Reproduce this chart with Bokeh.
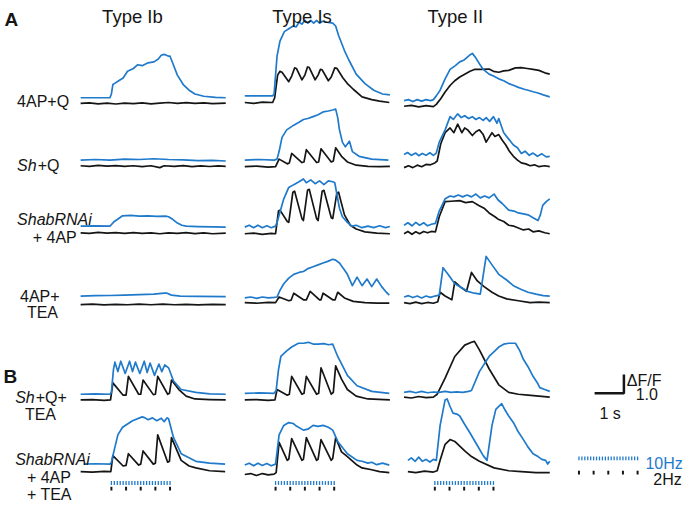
from bokeh.plotting import figure
from bokeh.models import Range1d
from bokeh.embed import file_html
from bokeh.resources import INLINE
from bokeh.core.properties import value

# ---------------- data (time in s, fluorescence in dF/F units) ----------------
column_titles = ["Type Ib", "Type Is", "Type II"]
stim_onset = 1.05          # s
stim_duration = 2.0        # s
rate_fast_hz = 10
rate_slow_hz = 2
scale_time = 1.0           # s
scale_dff = 1.0            # dF/F

# Row 1: 4AP+Q
r1_ib_blue = [(0,0.3),(1.0,0.3),(1.05,0.5),(1.1,1.0),(1.15,1.05),(1.3,1.2),(1.45,1.35),(1.6,1.7),(1.8,1.85),(1.95,2.05),(2.1,2.0),(2.3,2.15),(2.5,2.2),(2.65,2.35),(2.75,2.55),(2.85,2.6),(3.0,2.5),(3.05,2.5),(3.15,2.1),(3.3,1.5),(3.5,1.0),(3.7,0.7),(3.9,0.5),(4.2,0.38),(4.6,0.32),(4.95,0.3)]
r1_ib_black = [(0,0),(0.3,0.03),(0.6,-0.02),(0.9,0.02),(1.2,-0.03),(1.5,0.02),(1.8,-0.01),(2.1,0.03),(2.4,-0.02),(2.7,0.02),(3.0,0.05),(3.3,0.0),(3.6,0.04),(3.9,0.0),(4.2,0.03),(4.5,-0.01),(4.95,0.02)]
r1_is_blue = [(0,0.4),(0.95,0.4),(1.0,0.5),(1.1,2.5),(1.2,3.3),(1.35,3.8),(1.5,3.95),(1.65,4.1),(1.75,4.05),(1.85,4.3),(1.95,4.2),(2.05,4.4),(2.15,4.25),(2.25,4.4),(2.35,4.25),(2.45,4.4),(2.55,4.25),(2.65,4.35),(2.8,4.3),(3.0,4.25),(3.1,4.1),(3.2,3.6),(3.4,2.8),(3.55,2.3),(3.8,1.55),(4.1,1.05),(4.4,0.7),(4.7,0.5),(4.95,0.45)]
r1_is_black = [(0,0.05),(0.3,0.0),(0.6,0.07),(0.95,0.05),(1.02,0.3),(1.12,1.5),(1.2,1.7),(1.27,1.65),(1.5,1.15),(1.6,1.45),(1.7,1.88),(1.76,1.85),(1.95,1.25),(2.05,1.5),(2.14,1.93),(2.2,1.9),(2.4,1.25),(2.5,1.5),(2.58,1.8),(2.64,1.78),(2.85,1.2),(2.95,1.4),(3.07,1.88),(3.14,1.86),(3.35,1.35),(3.5,1.05),(3.7,0.75),(4.0,0.35),(4.33,0.2),(4.6,0.12),(4.93,0.05)]
r1_ii_blue = [(0,0.15),(0.15,0.2),(0.3,0.1),(0.45,0.2),(0.6,0.12),(0.75,0.2),(0.9,0.15),(1.0,0.2),(1.1,0.4),(1.23,0.7),(1.4,1.3),(1.57,1.8),(1.75,2.0),(1.9,2.2),(2.05,2.3),(2.23,2.55),(2.33,2.65),(2.45,2.4),(2.57,2.1),(2.7,1.8),(2.9,1.55),(3.05,1.45),(3.23,1.3),(3.4,1.2),(3.57,1.05),(3.75,0.95),(3.9,0.85),(4.1,0.75),(4.23,0.7),(4.4,0.62),(4.57,0.55),(4.75,0.45),(4.97,0.35)]
r1_ii_black = [(0,-0.15),(0.25,-0.1),(0.5,-0.18),(0.75,-0.12),(1.0,-0.17),(1.1,-0.05),(1.25,0.25),(1.4,0.6),(1.57,0.95),(1.73,1.2),(1.9,1.4),(2.07,1.55),(2.25,1.7),(2.4,1.8),(2.6,1.8),(2.9,1.82),(3.05,1.7),(3.23,1.65),(3.4,1.72),(3.57,1.75),(3.8,1.88),(4.0,1.9),(4.2,1.85),(4.4,1.8),(4.6,1.75),(4.8,1.62),(4.97,1.55)]

# Row 2: Sh+Q
r2_ib_blue = [(0,0.35),(0.5,0.38),(1.0,0.35),(1.5,0.4),(2.0,0.38),(2.5,0.42),(3.0,0.38),(3.5,0.36),(4.0,0.32),(4.5,0.33),(4.95,0.3)]
r2_ib_black = [(0,0.05),(0.3,0.02),(0.6,0.07),(0.9,0.03),(1.2,0.06),(1.5,0.02),(1.8,0.05),(2.1,0.0),(2.4,0.05),(2.7,-0.05),(2.85,0.05),(3.2,0.02),(3.5,0.06),(3.8,0.0),(4.1,0.04),(4.4,0.01),(4.7,0.04),(4.95,0.02)]
r2_is_blue = [(0,0.35),(0.5,0.38),(1.0,0.35),(1.1,0.4),(1.17,0.8),(1.27,1.55),(1.43,1.95),(1.67,2.2),(1.85,2.35),(2.0,2.5),(2.15,2.55),(2.33,2.65),(2.5,2.75),(2.67,2.9),(2.85,2.95),(3.0,3.0),(3.1,3.05),(3.17,2.6),(3.23,1.95),(3.33,1.3),(3.43,1.05),(3.57,1.35),(3.67,0.8),(3.9,0.55),(4.33,0.4),(4.9,0.35)]
r2_is_black = [(0,0.0),(0.4,0.03),(0.8,-0.02),(1.05,0.0),(1.17,0.4),(1.45,0.15),(1.52,0.2),(1.6,0.7),(1.95,0.22),(2.02,0.25),(2.1,0.9),(2.45,0.22),(2.52,0.25),(2.6,0.95),(2.95,0.25),(3.02,0.3),(3.1,1.0),(3.3,0.55),(3.5,0.25),(3.8,0.08),(4.2,0.02),(4.6,0.0),(4.95,0.02)]
r2_ii_blue = [(0,0.65),(0.12,0.75),(0.25,0.6),(0.4,0.72),(0.5,0.58),(0.62,0.7),(0.75,0.6),(0.88,0.74),(1.0,0.6),(1.1,0.72),(1.2,1.3),(1.4,1.95),(1.57,2.65),(1.68,2.5),(1.83,2.8),(1.95,2.6),(2.07,2.7),(2.2,2.55),(2.33,2.65),(2.45,2.5),(2.57,2.6),(2.7,2.45),(2.8,2.6),(2.92,2.4),(3.05,2.65),(3.17,2.3),(3.23,2.55),(3.4,1.8),(3.55,1.5),(3.73,1.15),(3.87,1.0),(4.0,0.7),(4.13,0.82),(4.27,0.6),(4.4,0.72),(4.55,0.55),(4.7,0.68),(4.85,0.52),(4.97,0.55)]
r2_ii_black = [(0,-0.05),(0.15,0.05),(0.3,-0.05),(0.45,0.08),(0.6,0.0),(0.75,0.12),(0.9,0.1),(1.05,0.2),(1.13,0.3),(1.25,1.2),(1.4,1.8),(1.57,2.05),(1.7,1.8),(1.83,2.25),(1.97,1.8),(2.07,2.05),(2.17,1.95),(2.33,1.65),(2.45,1.85),(2.57,1.95),(2.7,1.7),(2.8,1.3),(2.9,1.55),(3.0,1.8),(3.1,1.6),(3.23,1.7),(3.35,1.4),(3.47,1.15),(3.6,0.8),(3.73,0.55),(3.87,0.35),(4.0,0.2),(4.15,0.15),(4.3,0.05),(4.45,0.1),(4.6,0.0),(4.8,0.05),(4.97,0.0)]

# Row 3: ShabRNAi + 4AP
r3_ib_blue = [(0,0.4),(0.5,0.42),(1.0,0.4),(1.03,0.45),(1.15,0.65),(1.25,0.75),(1.43,0.95),(1.7,0.97),(2.0,0.93),(2.3,0.95),(2.6,0.92),(2.9,0.93),(3.0,0.9),(3.15,0.75),(3.27,0.6),(3.45,0.45),(3.6,0.4),(4.0,0.38),(4.5,0.36),(4.95,0.35)]
r3_ib_black = [(0,0.05),(0.3,0.02),(0.6,0.07),(0.9,0.03),(1.2,0.06),(1.5,0.02),(1.8,0.06),(2.1,0.02),(2.4,0.05),(2.7,0.0),(3.0,0.05),(3.3,0.02),(3.6,0.06),(3.9,0.01),(4.2,0.04),(4.5,0.0),(4.95,0.03)]
r3_is_blue = [(0,0.35),(0.15,0.45),(0.3,0.32),(0.45,0.45),(0.6,0.32),(0.75,0.42),(0.9,0.32),(1.05,0.4),(1.1,0.6),(1.33,1.85),(1.5,2.45),(1.67,2.6),(1.85,2.75),(2.0,2.9),(2.1,2.7),(2.25,2.85),(2.4,2.65),(2.55,2.8),(2.7,2.6),(2.85,2.8),(3.0,2.75),(3.07,2.7),(3.23,1.35),(3.33,0.9),(3.5,0.6),(3.65,0.4),(3.8,0.45),(4.0,0.32),(4.2,0.4),(4.4,0.32),(4.6,0.42),(4.8,0.32),(4.95,0.38)]
r3_is_black = [(0,0.0),(0.3,0.03),(0.6,-0.03),(0.9,0.02),(1.05,0.0),(1.15,1.2),(1.2,1.25),(1.45,0.65),(1.5,0.6),(1.64,2.2),(1.7,2.25),(1.95,0.8),(2.0,0.7),(2.14,2.3),(2.2,2.35),(2.45,0.8),(2.5,0.7),(2.64,2.25),(2.7,2.3),(2.95,0.85),(3.0,0.8),(3.14,2.15),(3.2,2.2),(3.4,1.0),(3.6,0.45),(3.8,0.25),(4.1,0.1),(4.5,0.03),(4.95,0.0)]
r3_ii_blue = [(0,0.45),(0.13,0.58),(0.27,0.42),(0.4,0.6),(0.53,0.45),(0.67,0.58),(0.8,0.42),(0.93,0.5),(1.07,0.55),(1.2,1.2),(1.4,1.85),(1.57,2.0),(1.7,1.95),(1.85,2.05),(2.0,1.95),(2.15,2.05),(2.3,1.95),(2.45,2.1),(2.6,1.9),(2.75,2.0),(2.9,1.9),(3.07,2.1),(3.2,1.8),(3.35,1.6),(3.57,1.25),(3.75,1.2),(3.9,1.1),(4.07,1.05),(4.23,1.0),(4.4,0.85),(4.57,0.7),(4.65,1.0),(4.73,1.5),(4.85,1.7),(4.97,1.85)]
r3_ii_black = [(0,0.0),(0.13,0.12),(0.27,-0.03),(0.4,0.1),(0.53,0.0),(0.67,0.12),(0.8,0.05),(0.93,0.12),(1.07,0.1),(1.2,0.9),(1.4,1.7),(1.6,1.72),(1.9,1.75),(2.1,1.65),(2.33,1.7),(2.55,1.5),(2.73,1.35),(2.9,1.1),(3.1,0.9),(3.23,0.75),(3.4,0.65),(3.57,0.45),(3.75,0.4),(3.9,0.3),(4.07,0.2),(4.25,0.25),(4.4,0.1),(4.6,0.15),(4.8,0.05),(4.97,0.0)]

# Row 4: 4AP+TEA
r4_ib_blue = [(0,0.4),(0.5,0.42),(1.0,0.43),(1.5,0.45),(2.0,0.47),(2.5,0.5),(2.85,0.55),(2.95,0.55),(3.1,0.45),(3.4,0.4),(4.0,0.38),(4.95,0.37)]
r4_ib_black = [(0,-0.05),(0.4,-0.03),(0.8,-0.07),(1.2,-0.04),(1.6,-0.06),(2.0,-0.03),(2.4,-0.06),(2.8,-0.03),(3.2,-0.06),(3.6,-0.04),(4.0,-0.07),(4.5,-0.04),(4.95,-0.05)]
r4_is_blue = [(0,0.3),(0.2,0.35),(0.4,0.28),(0.6,0.35),(0.8,0.3),(1.0,0.33),(1.1,0.35),(1.2,0.7),(1.33,1.05),(1.5,1.35),(1.67,1.55),(1.85,1.65),(2.0,1.7),(2.15,1.85),(2.33,1.95),(2.5,2.05),(2.67,2.15),(2.85,2.25),(3.0,2.35),(3.1,2.3),(3.23,2.15),(3.37,1.85),(3.5,1.55),(3.67,0.95),(3.83,1.4),(4.0,0.95),(4.17,1.3),(4.33,0.9),(4.5,1.3),(4.67,0.9),(4.8,0.65),(4.93,0.45)]
r4_is_black = [(0,0.05),(0.4,0.02),(0.8,0.07),(1.05,0.05),(1.17,0.35),(1.5,0.15),(1.58,0.18),(1.67,0.55),(2.0,0.2),(2.1,0.2),(2.23,0.65),(2.55,0.2),(2.6,0.2),(2.67,0.55),(3.0,0.2),(3.08,0.2),(3.17,0.6),(3.4,0.3),(3.7,0.12),(4.1,0.05),(4.5,0.03),(4.93,0.03)]
r4_ii_blue = [(0,0.35),(0.15,0.42),(0.3,0.32),(0.45,0.4),(0.6,0.3),(0.75,0.4),(0.9,0.33),(1.05,0.4),(1.2,0.45),(1.33,1.9),(1.5,1.55),(1.73,1.05),(1.95,0.85),(2.17,0.65),(2.4,0.55),(2.6,0.5),(2.7,1.5),(2.8,2.5),(3.0,2.05),(3.23,1.55),(3.5,1.25),(3.73,0.95),(4.0,0.75),(4.23,0.6),(4.5,0.5),(4.75,0.42),(4.97,0.4)]
r4_ii_black = [(0,0.05),(0.2,0.0),(0.4,0.08),(0.6,0.0),(0.8,0.06),(1.0,0.02),(1.15,0.1),(1.23,0.6),(1.4,0.4),(1.63,0.2),(1.73,1.15),(1.95,0.85),(2.13,0.65),(2.3,1.65),(2.5,1.2),(2.73,0.9),(3.0,0.6),(3.23,0.4),(3.5,0.25),(3.9,0.15),(4.3,0.05),(4.6,0.08),(4.97,0.05)]

# Row 5: Sh+Q+TEA
r5_ib_blue = [(0,0.3),(0.5,0.32),(1.0,0.3),(1.05,0.4),(1.12,1.6),(1.17,2.0),(1.27,1.5),(1.37,2.05),(1.52,1.4),(1.67,2.05),(1.77,1.5),(1.87,2.0),(2.02,1.4),(2.17,2.05),(2.27,1.45),(2.37,1.95),(2.52,1.3),(2.67,1.9),(2.77,1.5),(2.87,1.85),(3.0,1.7),(3.17,1.0),(3.43,0.55),(3.93,0.4),(4.4,0.32),(4.95,0.3)]
r5_ib_black = [(0,0.0),(0.4,0.02),(0.8,-0.02),(1.02,0.0),(1.1,0.9),(1.45,0.25),(1.55,0.25),(1.63,1.25),(1.98,0.3),(2.05,0.3),(2.13,1.05),(2.48,0.28),(2.55,0.3),(2.63,1.25),(2.97,0.3),(3.03,0.35),(3.1,1.05),(3.35,0.55),(3.6,0.2),(3.9,0.05),(4.4,0.02),(4.95,0.0)]
r5_is_blue = [(0,0.35),(0.5,0.37),(1.0,0.35),(1.07,0.5),(1.15,1.6),(1.23,2.3),(1.43,2.6),(1.6,2.8),(1.83,3.0),(2.0,3.0),(2.17,3.05),(2.35,2.95),(2.5,2.95),(2.7,2.98),(2.85,2.92),(3.0,2.95),(3.17,2.3),(3.5,1.3),(3.83,0.75),(4.33,0.45),(4.93,0.35)]
r5_is_black = [(0,0.0),(0.4,0.02),(0.8,-0.02),(1.03,0.0),(1.1,0.55),(1.45,0.25),(1.52,0.3),(1.6,1.25),(1.95,0.3),(2.02,0.35),(2.1,1.25),(2.45,0.3),(2.52,0.35),(2.6,1.7),(2.95,0.3),(3.02,0.4),(3.1,1.8),(3.3,1.1),(3.5,0.55),(3.8,0.2),(4.2,0.05),(4.95,0.0)]
r5_ii_blue = [(0,0.4),(0.2,0.45),(0.4,0.38),(0.6,0.45),(0.8,0.38),(1.0,0.42),(1.2,0.4),(1.4,0.45),(1.6,0.4),(1.8,0.43),(2.0,0.4),(2.2,0.45),(2.3,0.5),(2.57,1.5),(2.9,2.3),(3.1,2.6),(3.23,2.8),(3.4,2.95),(3.57,3.0),(3.8,3.0),(3.95,2.6),(4.07,2.15),(4.25,1.7),(4.4,1.25),(4.55,0.9),(4.63,0.65),(4.8,0.55),(4.97,0.45)]
r5_ii_black = [(0,0.15),(0.25,0.1),(0.5,0.18),(0.75,0.12),(1.0,0.15),(1.13,0.3),(1.4,1.15),(1.73,2.3),(2.07,2.9),(2.3,3.05),(2.4,3.1),(2.57,2.65),(2.9,1.65),(3.23,0.8),(3.57,0.4),(3.9,0.3),(4.23,0.25),(4.6,0.2),(4.97,0.15)]

# Row 6: ShabRNAi + 4AP + TEA
r6_ib_blue = [(0.1,0.45),(0.5,0.47),(1.0,0.45),(1.05,0.55),(1.17,1.35),(1.27,2.0),(1.43,2.4),(1.77,2.75),(2.1,2.95),(2.2,2.9),(2.3,2.8),(2.45,2.9),(2.6,2.75),(2.75,2.88),(2.85,2.7),(2.95,2.9),(3.0,2.85),(3.17,1.85),(3.43,1.0),(3.93,0.6),(4.4,0.5),(4.93,0.45)]
r6_ib_black = [(0,0.05),(0.4,0.03),(0.8,0.07),(1.03,0.05),(1.1,0.9),(1.45,0.35),(1.55,0.38),(1.63,1.0),(1.98,0.4),(2.05,0.45),(2.13,1.15),(2.48,0.45),(2.55,0.5),(2.63,2.0),(2.97,0.55),(3.03,0.6),(3.1,1.85),(3.43,0.65),(3.7,0.35),(3.93,0.25),(4.4,0.1),(4.93,0.05)]
r6_is_blue = [(0,0.4),(0.15,0.5),(0.3,0.36),(0.45,0.5),(0.6,0.38),(0.75,0.48),(0.9,0.36),(1.05,0.45),(1.17,2.0),(1.33,2.5),(1.5,2.65),(1.65,2.6),(1.73,2.5),(2.0,2.25),(2.15,2.3),(2.33,2.5),(2.5,2.45),(2.67,2.5),(2.85,2.4),(3.0,2.25),(3.17,1.65),(3.5,1.0),(3.83,0.65),(4.0,0.6),(4.2,0.5),(4.33,0.55),(4.5,0.42),(4.7,0.5),(4.93,0.4)]
r6_is_black = [(0,-0.1),(0.2,-0.05),(0.4,-0.15),(0.6,-0.05),(0.8,-0.12),(1.0,-0.08),(1.07,0.0),(1.17,1.6),(1.45,0.65),(1.5,0.7),(1.6,1.8),(1.95,0.65),(2.0,0.7),(2.1,1.85),(2.45,0.65),(2.5,0.7),(2.6,1.75),(2.95,0.65),(3.0,0.75),(3.1,1.85),(3.3,1.1),(3.5,0.85),(3.83,0.4),(4.0,0.25),(4.33,0.15),(4.6,0.05),(4.93,0.0)]
r6_ii_blue = [(0.13,0.65),(0.25,0.78),(0.38,0.6),(0.5,0.82),(0.62,0.6),(0.75,0.7),(0.88,0.56),(1.0,0.7),(1.1,0.65),(1.23,2.5),(1.4,3.85),(1.47,3.9),(1.57,3.5),(1.67,3.15),(1.8,3.1),(1.9,3.0),(2.05,2.6),(2.23,2.15),(2.4,1.7),(2.57,1.25),(2.7,0.9),(2.83,0.65),(3.0,2.5),(3.13,3.35),(3.33,3.65),(3.45,3.3),(3.57,3.0),(3.75,2.6),(3.9,2.15),(4.05,1.8),(4.23,1.35),(4.4,1.0),(4.57,0.85),(4.7,0.7),(4.83,0.65),(4.9,0.45),(4.97,0.6)]
r6_ii_black = [(0.13,0.05),(0.4,0.0),(0.7,0.08),(1.0,0.03),(1.13,0.1),(1.23,0.65),(1.4,1.5),(1.57,1.75),(1.73,1.65),(2.07,1.15),(2.3,0.85),(2.57,0.6),(3.07,0.25),(3.57,0.1),(4.0,0.05),(4.5,0.0),(4.97,0.0)]

traces = [
    [(r1_ib_blue, r1_ib_black), (r1_is_blue, r1_is_black), (r1_ii_blue, r1_ii_black)],
    [(r2_ib_blue, r2_ib_black), (r2_is_blue, r2_is_black), (r2_ii_blue, r2_ii_black)],
    [(r3_ib_blue, r3_ib_black), (r3_is_blue, r3_is_black), (r3_ii_blue, r3_ii_black)],
    [(r4_ib_blue, r4_ib_black), (r4_is_blue, r4_is_black), (r4_ii_blue, r4_ii_black)],
    [(r5_ib_blue, r5_ib_black), (r5_is_blue, r5_is_black), (r5_ii_blue, r5_ii_black)],
    [(r6_ib_blue, r6_ib_black), (r6_is_blue, r6_is_black), (r6_ii_blue, r6_ii_black)],
]

# ---------------- layout (reference pixels) ----------------
REF_W, REF_H = 700, 538
PX_PER_S = 30.0
PX_PER_UNIT = 20.0
COL_START = [82, 250, 413]
ROW_REF = [109, 176, 247, 321, 423, 500]

BLUE = "#1f7acb"
BLACK = "#151515"
FONT = value("Liberation Sans")

def X(px):
    return px / PX_PER_S

def Y(py):
    return -py / PX_PER_UNIT

p = figure(width=684, height=508, output_backend="svg", toolbar_location=None,
           x_range=Range1d(0, X(REF_W)), y_range=Range1d(Y(REF_H), 0),
           min_border=0, outline_line_color=None, background_fill_color="white")
p.axis.visible = False
p.grid.visible = False

for r, row in enumerate(traces):
    y0 = Y(ROW_REF[r])
    for c, (blue, black) in enumerate(row):
        x0 = X(COL_START[c])
        for tr, col in ((black, BLACK), (blue, BLUE)):
            p.line([x0 + t for t, v in tr], [y0 + v for t, v in tr],
                   line_color=col, line_width=1.7, line_join="round")

def stim_marks(x_start, y_fast_top, y_slow_top):
    n_fast = int(stim_duration * rate_fast_hz) + 1
    n_slow = int(stim_duration * rate_slow_hz) + 1
    fx = [x_start + k / rate_fast_hz for k in range(n_fast)]
    sx = [x_start + k / rate_slow_hz for k in range(n_slow)]
    p.segment(x0=fx, x1=fx, y0=[Y(y_fast_top)] * n_fast, y1=[Y(y_fast_top + 4)] * n_fast,
              line_color=BLUE, line_width=1.3)
    p.segment(x0=sx, x1=sx, y0=[Y(y_slow_top)] * n_slow, y1=[Y(y_slow_top + 4)] * n_slow,
              line_color=BLACK, line_width=2)

for c in range(3):
    stim_marks(X(COL_START[c]) + stim_onset, 509, 515)
stim_marks(X(592), 483, 498)

# scale bar
cx, cy = X(638), Y(416)
p.line([cx - scale_time, cx, cx], [cy, cy, cy + scale_dff], line_color=BLACK, line_width=2.5)

def txt(px, py, s, size, color=BLACK, style="normal", align="left"):
    p.text(x=[X(px)], y=[Y(py)], text=[s], text_font=FONT, text_font_size=size,
           text_color=color, text_font_style=style, text_align=align,
           text_baseline="alphabetic")

TS = "18.5px"
LS = "16px"
txt(4, 20, "A", "19px", style="bold")
txt(3, 398, "B", "19px", style="bold")
txt(104, 17, column_titles[0], TS)
txt(278, 17, column_titles[1], TS)
txt(437, 17, column_titles[2], TS)

txt(17, 107, "4AP+Q", LS)
txt(17, 175, "Sh", LS, style="italic")
txt(38, 175, "+Q", LS)
txt(17, 232, "ShabRNAi", LS, style="italic")
txt(33, 251, "+ 4AP", LS)
txt(20, 313, "4AP+", LS)
txt(27, 330, "TEA", LS)
txt(15, 420, "Sh", LS, style="italic")
txt(36, 420, "+Q+", LS)
txt(25, 438, "TEA", LS)
txt(15, 486, "ShabRNAi", LS, style="italic")
txt(27, 505, "+ 4AP", LS)
txt(27, 523, "+ TEA", LS)

txt(641, 402, "\u0394F/F", LS)
txt(650, 417, "1.0", LS)
txt(613, 437, "1 s", LS)
txt(660, 490, "%dHz" % rate_fast_hz, "16px", color=BLUE)
txt(668, 507, "%dHz" % rate_slow_hz, "16px")

open("out.html", "w").write(file_html(p, INLINE))
